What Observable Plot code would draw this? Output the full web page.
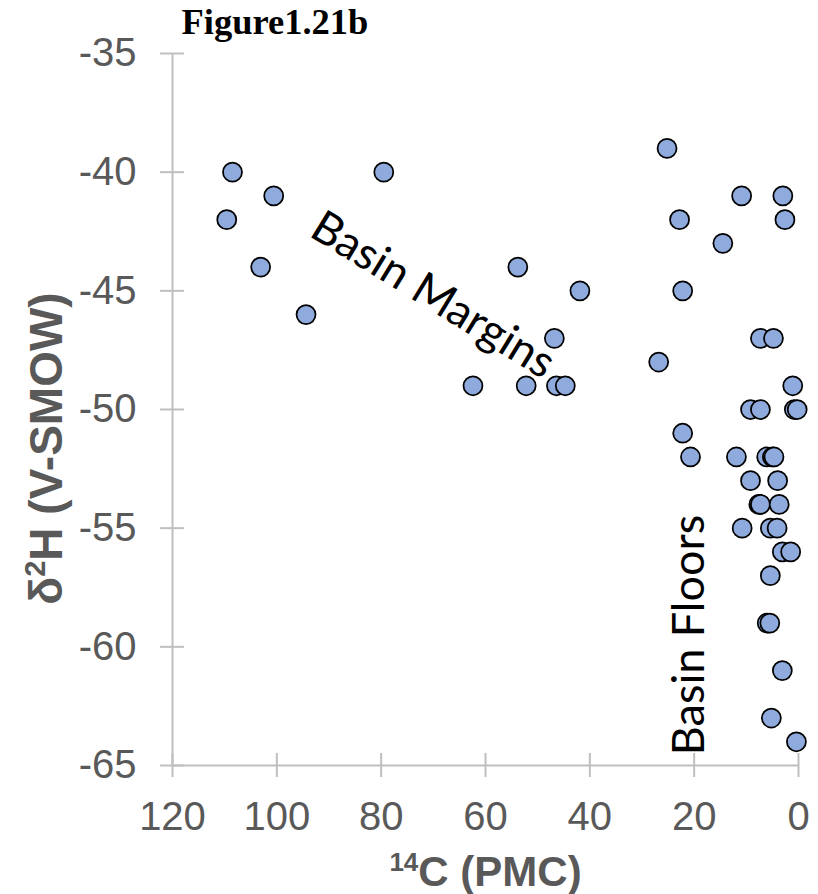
<!DOCTYPE html>
<html>
<head>
<meta charset="utf-8">
<script src="https://cdn.jsdelivr.net/npm/d3@7"></script>
<script src="https://cdn.jsdelivr.net/npm/@observablehq/plot@0.6"></script>
<style>
  html, body { margin: 0; padding: 0; background: #fff; }
  #chart svg { display: block; }
</style>
</head>
<body>
<div id="chart"></div>
<script>
// ---- data ----
const title = "Figure1.21b";
// axis titles as [text, isSuperscript] parts
const xLabelParts = [["14", true], ["C (PMC)", false]];
const yLabelParts = [["δ", false], ["2", true], ["H (V-SMOW)", false]];
const xTicks = [120, 100, 80, 60, 40, 20, 0];
const yTicks = [-35, -40, -45, -50, -55, -60, -65];

// 14C (PMC) values
const pmc = [
  108.5, 109.6, 100.6, 103.1, 94.4, 79.5, 53.8, 41.9, 46.8, 62.4, 52.2, 46.4, 44.7,
  25.2, 10.9, 3.0, 22.8, 2.6, 14.5, 22.2, 7.3, 4.8, 26.8, 1.1,
  9.2, 7.3, 0.8, 0.25,
  22.2,
  20.7, 11.9, 6.1, 5.0, 4.7,
  9.2, 4.0,
  7.6, 7.3, 3.7,
  10.8, 5.4, 4.1,
  3.1, 1.5,
  5.4,
  6.0, 5.5,
  3.1,
  5.2,
  0.4
];
// delta 2H (V-SMOW) values
const d2h = [
  -40, -42, -41, -44, -46, -40, -44, -45, -47, -49, -49, -49, -49,
  -39, -41, -41, -42, -42, -43, -45, -47, -47, -48, -49,
  -50, -50, -50, -50,
  -51,
  -52, -52, -52, -52, -52,
  -53, -53,
  -54, -54, -54,
  -55, -55, -55,
  -56, -56,
  -57,
  -59, -59,
  -61,
  -63,
  -64
];

const noteText = ["Basin Margins", "Basin Floors"];
const noteX = [71.5, 18.2];
const noteY = [-45.7, -59.5];
const noteAngle = [31.5, -90];

// ---- layout ----
const W = 818, H = 894;
const mL = 172, mR = 20, mT = 53, mB = 129;
const fw = W - mL - mR, fh = H - mT - mB;
const axisColor = "#bfbfbf";
const labelColor = "#595959";
const sans = "'Liberation Sans', Arial, sans-serif";

const xLabel = xLabelParts.map(p => p[0]).join("");
const yLabel = yLabelParts.map(p => p[0]).join("");
const points = pmc.map((x, i) => ({x, y: d2h[i]}));
const notes = noteText.map((t, i) => ({text: t, x: noteX[i], y: noteY[i], rotate: noteAngle[i]}));
const fmt = d => String(d);

const chart = Plot.plot({
  width: W,
  height: H,
  marginLeft: mL,
  marginRight: mR,
  marginTop: mT,
  marginBottom: mB,
  style: {fontFamily: sans, background: "#fff"},
  x: {domain: [120, 0]},
  y: {domain: [-65, -35]},
  marks: [
    Plot.ruleX([120], {stroke: axisColor, strokeWidth: 2}),
    Plot.ruleY([-65], {stroke: axisColor, strokeWidth: 2}),
    Plot.ruleX(xTicks, {stroke: axisColor, strokeWidth: 2, insetTop: fh - 12, insetBottom: -12}),
    Plot.ruleY(yTicks, {stroke: axisColor, strokeWidth: 2, insetLeft: -12, insetRight: fw - 12}),
    Plot.axisX({ticks: xTicks, tickSize: 0, tickPadding: 36, fontSize: 40, color: labelColor, tickFormat: fmt, label: null}),
    Plot.axisY({ticks: yTicks, tickSize: 0, tickPadding: 36, fontSize: 40, color: labelColor, tickFormat: fmt, label: null}),
    Plot.dot(points, {x: "x", y: "y", r: 9.5, fill: "#8faadc", stroke: "#000", strokeWidth: 1.75}),
    Plot.text(notes, {x: "x", y: "y", text: "text", rotate: "rotate", fontSize: 45, fontFamily: "Lato, 'Open Sans', sans-serif", lineAnchor: "bottom", textAnchor: "middle", fill: "#000"}),
    Plot.text([title], {text: d => d, frameAnchor: "top-left", dx: 9, dy: -20, lineAnchor: "bottom", textAnchor: "start", fontFamily: "'Liberation Serif', 'Times New Roman', serif", fontWeight: "bold", fontSize: 36.5, fill: "#000"}),
    Plot.text([xLabel], {text: d => d, frameAnchor: "bottom", dy: 120, lineAnchor: "bottom", textAnchor: "middle", fontSize: 42, fontWeight: "bold", fill: labelColor}),
    Plot.text([yLabel], {text: d => d, frameAnchor: "left", dx: -111, dy: 39, rotate: -90, lineAnchor: "bottom", textAnchor: "middle", fontSize: 46, fontWeight: "bold", fill: labelColor})
  ]
});

// render superscripts in the axis titles as real tspans
function superscript(textEl, parts, fs) {
  const sel = d3.select(textEl);
  sel.text(null);
  const shift = Math.round(fs * 0.36);
  let raised = false;
  parts.forEach(([t, sup]) => {
    const ts = sel.append("tspan").text(t);
    if (sup) {
      ts.attr("font-size", Math.round(fs * 0.62)).attr("dy", raised ? 0 : -shift);
      raised = true;
    } else {
      if (raised) ts.attr("dy", shift);
      raised = false;
    }
  });
}
d3.select(chart).selectAll("text").each(function () {
  const t = this.textContent;
  if (t === xLabel) superscript(this, xLabelParts, 42);
  else if (t === yLabel) superscript(this, yLabelParts, 46);
});

document.getElementById("chart").appendChild(chart);
</script>
</body>
</html>
